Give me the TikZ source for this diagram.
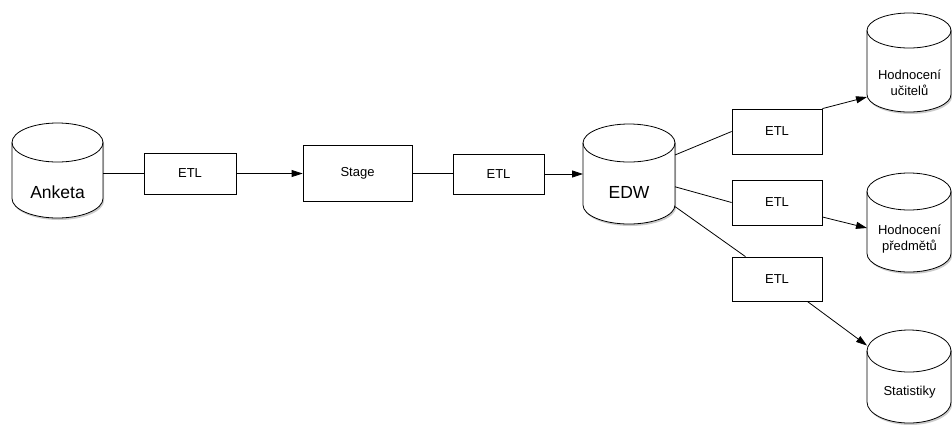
\documentclass[tikz,border=0pt]{standalone}
\usepackage{fontspec}
\setmainfont{Liberation Sans}
\usetikzlibrary{arrows.meta}
\newcommand\dbcyl[5]{%
  \pgfmathsetmacro\cylcx{(#1+#3)/2}%
  \pgfmathsetmacro\cylrx{(#3-#1)/2}%
  \pgfmathsetmacro\cylta{#2+#5}%
  \pgfmathsetmacro\cyltb{#4-#5}%
  \fill[black,opacity=.2,xshift=1.2pt,yshift=-2pt] (#1,\cylta) -- (#1,\cyltb)
    arc[start angle=180,end angle=360,x radius=\cylrx pt,y radius=#5pt] -- (#3,\cylta)
    arc[start angle=0,end angle=180,x radius=\cylrx pt,y radius=#5pt] -- cycle;
  \filldraw[line,fill=white] (#1,\cylta) -- (#1,\cyltb)
    arc[start angle=180,end angle=360,x radius=\cylrx pt,y radius=#5pt] -- (#3,\cylta)
    arc[start angle=0,end angle=180,x radius=\cylrx pt,y radius=#5pt] -- cycle;
  \draw[line] (#1,\cylta) arc[start angle=180,end angle=360,x radius=\cylrx pt,y radius=#5pt];
}
\begin{document}
\begin{tikzpicture}[x=1pt,y=-1pt,
  line/.style={line width=0.8pt,draw=black},
  etlbox/.style={draw=black,line width=0.8pt,fill=white,inner sep=0pt,font=\fontsize{13}{16}\selectfont},
  cylarea/.style={inner sep=0pt,outer sep=0pt},
  bigtext/.style={font=\fontsize{17.5}{20}\selectfont,anchor=base},
  smalltext/.style={font=\fontsize{13}{16}\selectfont,align=center},
  conn/.style={line},
  arr/.style={line,-{Triangle[length=11pt,width=7pt]}}]
\path[use as bounding box,fill=white] (0,0) rectangle (952,424);

% cylinders
\dbcyl{12}{123}{103}{218}{19.5}
\dbcyl{583}{124}{675}{224}{19}
\dbcyl{867}{13}{951}{112}{17.5}
\dbcyl{867}{173}{951}{272}{18.5}
\dbcyl{867}{330}{951}{423}{21}

\node[cylarea,minimum width=91pt,minimum height=95pt] (anketa) at (57.5,170.5) {};
\node[cylarea,minimum width=92pt,minimum height=100pt] (edw) at (629,174) {};
\node[cylarea,minimum width=84pt,minimum height=99pt] (hodU) at (909,62.5) {};
\node[cylarea,minimum width=84pt,minimum height=99pt] (hodP) at (909,222.5) {};
\node[cylarea,minimum width=84pt,minimum height=93pt] (stat) at (909,376.5) {};

\node[bigtext] (anketaT) at (57.5,198) {Anketa};
\node[bigtext] (edwT) at (629,198) {EDW};
\node[smalltext] (hodUT) at (909.5,83) {Hodnocení\\učitelů};
\node[smalltext] (hodPT) at (909.5,239) {Hodnocení\\předmětů};
\node[smalltext] (statT) at (909.5,392) {Statistiky};

% boxes
\node[etlbox,minimum width=92pt,minimum height=41pt] (etl1) at (190,173.5) {ETL};
\node[etlbox,minimum width=109pt,minimum height=56pt] (stage) at (357.5,173) {Stage};
\node[etlbox,minimum width=91pt,minimum height=40pt] (etl2) at (498.5,174) {ETL};
\node[etlbox,minimum width=90pt,minimum height=45pt] (etlA) at (777,131.5) {ETL};
\node[etlbox,minimum width=90pt,minimum height=45pt] (etlB) at (777,202.5) {ETL};
\node[etlbox,minimum width=90pt,minimum height=44pt] (etlC) at (777,279) {ETL};

% connectors
\draw[conn] (etl1.west -| anketa.east) -- (etl1.west);
\draw[arr] (etl1.east) -- (etl1.east -| stage.west);
\draw[conn] (stage.east) -- (stage.east -| etl2.west);
\draw[arr] (etl2.east) -- (etl2.east -| edw.west);
\draw[conn] (edw) -- (etlA.west);
\draw[conn] (edw) -- (etlB.west);
\draw[conn] (edw) -- (etlC);
\draw[arr] (etlA.north east) -- ([yshift=-34.5pt]hodU.west);
\draw[arr] ([yshift=-14.5pt]etlB.east) -- ([yshift=-5.5pt]hodP.west);
\draw[arr] (etlC) -- (stat);
\end{tikzpicture}
\end{document}
